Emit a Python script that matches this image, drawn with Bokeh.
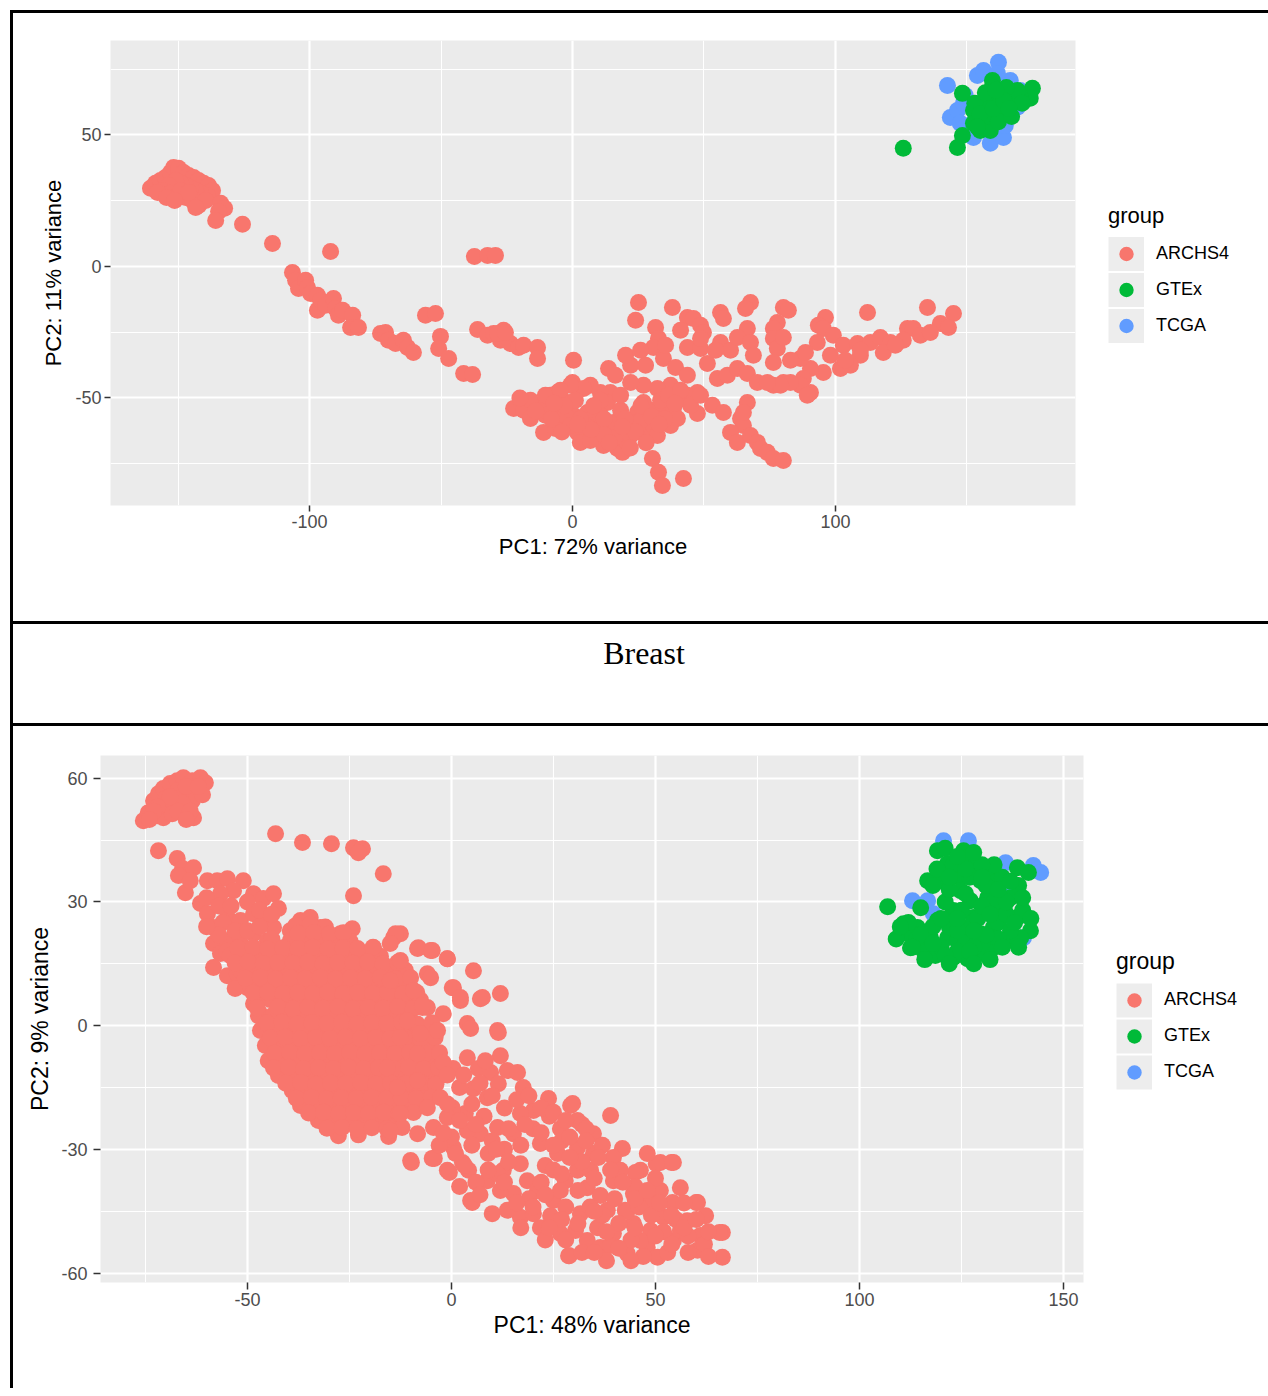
from bokeh.plotting import figure
from bokeh.models import Range1d, FixedTicker, Legend, LegendItem, Div
from bokeh.layouts import row, column
from bokeh.core.properties import value
from bokeh.embed import file_html
from bokeh.resources import INLINE

GROUP_NAMES = ["ARCHS4", "GTEx", "TCGA"]
GROUP_COLORS = {"ARCHS4": "#F8766D", "GTEx": "#00BA38", "TCGA": "#619CFF"}
DRAW_ORDER = ["ARCHS4", "TCGA", "GTEx"]

# ---------------- top panel (PC1 72% / PC2 11%) ----------------
top_archs4 = [
    (-160.5, 29.7), (-158.6, 31.6), (-156.7, 32.7), (-154.8, 33.8), (-152.9, 35.7), (-151.7, 37.6),
    (-149.8, 37.3), (-147.9, 35.7), (-146.0, 34.6), (-144.1, 33.8), (-142.2, 32.7), (-140.3, 31.6),
    (-138.4, 30.8), (-136.9, 28.9), (-138.8, 27.0), (-141.4, 27.8), (-143.3, 28.9), (-145.2, 29.7),
    (-147.1, 30.8), (-149.0, 31.6), (-150.9, 32.7), (-153.6, 30.8), (-155.9, 28.9), (-152.9, 27.8),
    (-149.8, 27.0), (-147.1, 26.2), (-144.5, 25.1), (-142.2, 23.2), (-139.5, 25.1), (-143.3, 22.4),
    (-149.0, 28.9), (-146.0, 28.1), (-157.8, 28.1), (-154.4, 26.2), (-151.3, 25.1),
    (-133.8, 24.0), (-132.3, 22.1), (-134.6, 20.9), (-135.7, 17.5), (-125.5, 16.0), (-114.1, 8.7),
    (-92.0, 5.7), (-37.3, 3.8), (-32.3, 4.2), (-29.3, 4.2),
    (-106.5, -2.3), (-105.3, -5.3), (-104.2, -8.4), (-101.5, -5.3), (-100.8, -8.0), (-99.6, -10.3),
    (-97.0, -11.0), (-97.0, -16.7), (-95.8, -12.9), (-93.9, -14.8), (-90.9, -12.2), (-90.1, -16.0),
    (-89.0, -18.6), (-87.4, -16.7), (-83.6, -18.6), (-84.4, -23.2), (-81.4, -23.2), (-73.0, -25.5),
    (-71.1, -25.1), (-70.0, -28.1), (-67.3, -29.3), (-64.3, -28.1), (-62.7, -30.8), (-60.5, -32.7),
    (-55.9, -18.6), (-52.1, -17.9), (-50.2, -26.6), (-50.9, -31.2), (-47.1, -35.0), (-41.4, -40.7),
    (-38.0, -41.1), (-36.1, -24.0), (-32.3, -26.2), (-30.0, -25.5), (-26.2, -24.3), (-27.4, -28.1),
    (-23.6, -29.3), (-20.5, -30.8), (-18.6, -30.0), (-13.3, -30.8), (-13.3, -35.0), (-28.5, -25.5),
    (-25.5, -25.1),
    (25.1, -13.7), (24.0, -20.5), (38.0, -15.6), (43.7, -19.4), (46.0, -19.8), (48.7, -22.4),
    (49.8, -25.1), (56.3, -17.5), (57.4, -19.8), (67.7, -13.7), (65.8, -16.0), (66.5, -23.6),
    (80.2, -15.6), (82.1, -16.7), (77.9, -21.3), (76.4, -23.6), (96.2, -19.4), (93.5, -22.4),
    (112.2, -17.5), (135.0, -15.6), (144.9, -17.9), (139.9, -21.7), (143.0, -23.2),
    (31.6, -23.2), (32.7, -27.4), (30.8, -30.8), (43.7, -30.8), (48.7, -31.2), (56.3, -28.9),
    (60.1, -31.9), (62.7, -27.0), (67.7, -28.9), (68.8, -33.8), (76.4, -27.4), (77.9, -31.2),
    (76.4, -36.5), (80.2, -27.0), (95.4, -23.6), (99.2, -26.2), (93.1, -28.9), (103.0, -30.0),
    (108.4, -29.3), (113.3, -28.9), (117.1, -27.0), (120.9, -28.9), (127.4, -23.6), (129.6, -23.6),
    (125.8, -28.1), (118.2, -32.7), (109.5, -33.8), (105.7, -37.6), (101.9, -38.8), (95.4, -40.3),
    (90.5, -38.8), (87.8, -42.6), (86.7, -35.0), (82.9, -35.7), (90.5, -47.9), (88.6, -32.7),
    (98.1, -33.8),
    (0.4, -35.7), (0.0, -44.1), (13.7, -38.8), (22.1, -37.6), (27.8, -37.6), (34.6, -35.0),
    (39.2, -38.4), (43.7, -41.4), (51.3, -36.9), (55.1, -42.6), (58.9, -41.4), (62.7, -38.8),
    (66.5, -40.7), (70.3, -44.1), (76.4, -45.2), (80.2, -44.1), (47.5, -47.9), (42.2, -50.2),
    (37.3, -45.2), (32.3, -46.4), (27.0, -45.2), (22.1, -44.1), (14.4, -47.9), (10.6, -47.9),
    (6.8, -45.2), (4.2, -46.4), (-0.8, -45.2), (-5.7, -47.9),
    (-22.4, -54.0), (-18.6, -54.7), (-16.0, -57.8), (-12.2, -52.8), (-11.0, -63.1), (-8.4, -49.0),
    (-5.7, -54.0), (-4.6, -59.3), (-1.9, -51.7), (0.4, -56.6), (1.9, -63.1), (3.0, -66.9),
    (5.7, -55.5), (8.0, -60.5), (9.5, -65.4), (11.8, -68.1), (13.3, -51.7), (15.6, -59.3),
    (17.1, -69.2), (19.0, -70.7), (20.9, -66.9), (23.2, -60.5), (24.7, -55.5), (27.0, -51.7),
    (28.5, -63.1), (30.8, -60.5), (32.3, -64.3), (34.6, -55.5), (37.3, -60.5), (38.4, -54.0),
    (39.9, -57.8), (47.5, -55.9), (43.7, -49.0), (30.4, -73.0), (32.7, -78.3), (34.2, -83.3),
    (42.2, -80.6),
    (53.2, -52.8), (57.4, -55.5), (63.9, -57.8), (65.0, -60.5), (60.1, -63.1), (62.7, -66.9),
    (67.7, -64.3), (70.3, -66.9), (71.5, -69.2), (74.1, -70.7), (76.4, -73.0), (80.2, -73.8),
    (66.5, -51.7), (65.0, -55.5),
    (86.7, -45.2), (89.3, -49.0), (82.9, -44.1), (79.1, -45.2), (74.1, -44.1),
    (-16.0, -50.9), (-10.3, -56.6), (-6.5, -61.6), (-2.7, -56.6), (1.1, -50.9), (4.9, -60.5),
    (10.6, -56.6), (14.4, -62.4), (18.3, -54.7), (22.1, -64.3), (25.9, -58.6), (29.7, -54.7),
    (33.5, -50.9), (36.5, -49.0), (41.1, -47.1), (44.9, -52.8), (48.7, -49.0), (18.3, -49.0),
    (10.6, -50.9), (6.8, -66.2), (-0.8, -60.5), (-10.3, -49.0), (-4.6, -47.1), (41.1, -24.3),
    (48.7, -27.4), (54.4, -31.9), (35.4, -30.0), (20.2, -33.8), (16.3, -41.4), (25.9, -31.9),
    (132.3, -26.2), (136.1, -25.1), (122.8, -30.0), (109.5, -31.9), (103.8, -35.7),
    (-20.0, -50.0), (-14.0, -55.0), (-8.0, -58.0), (-3.0, -53.0), (3.0, -58.0), (8.0, -53.0),
    (12.0, -58.0), (16.0, -65.0), (12.0, -64.0), (7.0, -62.0), (2.0, -60.0), (-4.0, -63.0),
    (20.0, -58.0), (24.0, -63.0), (26.0, -53.0), (30.0, -57.0), (35.0, -58.0), (39.0, -52.0),
    (28.0, -67.0), (22.0, -69.0), (14.0, -67.0), (19.0, -61.0), (33.0, -60.0), (-7.0, -52.0),
]
top_gtex = [
    (125.8, 44.9), (146.4, 45.2), (148.3, 49.8), (148.3, 65.8), (159.7, 70.7), (174.9, 67.7),
    (174.1, 63.9), (152.5, 59.3), (156.3, 62.0), (160.1, 64.3), (163.9, 65.8), (166.5, 63.1),
    (157.8, 54.4), (155.1, 51.7), (158.9, 51.7), (152.5, 54.4), (170.3, 64.3), (161.6, 58.2),
    (163.9, 59.3), (156.3, 56.6), (159.7, 68.1), (169.2, 66.9),
    (153.0, 62.0), (157.0, 66.0), (162.0, 61.0), (165.0, 68.0), (158.0, 57.0), (162.0, 55.0),
    (167.0, 57.0), (171.0, 62.0), (155.0, 58.0), (160.0, 60.0), (164.0, 63.0), (154.0, 53.0),
    (161.0, 67.0), (166.0, 60.0),
]
top_tcga = [
    (162.0, 77.6), (142.6, 68.8), (154.0, 72.6), (156.3, 74.5), (143.7, 56.6), (146.4, 59.3),
    (152.5, 49.0), (158.9, 46.8), (163.9, 49.0), (169.2, 60.5), (166.5, 70.7), (161.6, 73.4),
    (148.7, 62.0), (147.5, 54.4), (170.3, 66.9), (149.4, 65.0), (153.2, 55.5), (164.6, 53.6),
]
top_x_range = (-175.7, 191.3)
top_y_range = (-90.9, 85.9)
top_x_ticks = [-100, 0, 100]
top_x_minor = [-150, -50, 50, 150]
top_y_ticks = [-50, 0, 50]
top_y_minor = [-75, -25, 25, 75]
top_x_label = "PC1: 72% variance"
top_y_label = "PC2: 11% variance"

caption_text = "Breast"

# ---------------- bottom panel (PC1 48% / PC2 9%) ----------------
bot_archs4 = [
    (-75.5, 49.7), (-74.3, 51.6), (-73.0, 54.5), (-71.8, 56.2), (-70.6, 57.5), (-68.9, 58.7),
    (-67.2, 59.4), (-65.7, 60.1), (-63.5, 59.4), (-61.5, 60.1), (-60.3, 58.9), (-62.3, 57.0),
    (-64.7, 56.2), (-66.4, 55.0), (-68.1, 53.8), (-69.6, 52.1), (-72.1, 50.9), (-70.6, 50.4),
    (-68.4, 51.4), (-65.9, 52.8), (-63.5, 54.5), (-63.2, 50.4), (-71.8, 42.4),
    (-70.0, 55.0), (-67.0, 57.0), (-65.0, 58.0), (-66.0, 54.0), (-69.0, 55.5), (-72.0, 53.0),
    (-67.0, 52.0), (-64.0, 52.0), (-61.0, 56.0), (-62.0, 58.0), (-73.0, 52.0), (-74.0, 50.0),
    (-65.0, 50.0),
    (-43.1, 46.5), (-36.5, 44.4), (-29.4, 44.1), (-24.0, 43.1), (-21.8, 42.9), (-22.8, 41.9),
    (-16.7, 36.8), (-24.0, 31.5),
    (-67.2, 40.5), (-65.9, 38.1), (-66.9, 36.4), (-63.2, 38.3), (-65.2, 32.2), (-64.0, 35.1),
    (-61.5, 29.6), (-59.8, 35.1), (-57.4, 35.1), (-54.9, 35.6), (-51.0, 35.1), (-53.4, 32.7),
    (-56.6, 32.0), (-48.5, 32.0), (-46.1, 30.8), (-43.6, 32.0), (-42.4, 28.4), (-59.8, 27.1),
    (-58.3, 23.8), (-54.9, 26.2), (-51.7, 25.5), (-48.5, 27.1), (-46.1, 25.5), (-43.6, 23.8),
    (-58.3, 19.9), (-54.9, 20.6), (-51.7, 19.9), (-48.5, 22.3), (-45.1, 20.6), (-56.6, 17.5),
    (-53.4, 16.5), (-58.3, 14.1), (-54.9, 12.1), (-52.5, 12.6), (-48.5, 16.5), (-46.1, 17.5),
    (-43.6, 18.9), (-50.0, 9.2), (-47.6, 7.8), (-48.5, 5.3),
    (-60.0, 31.0), (-57.0, 29.0), (-54.0, 29.0), (-50.0, 30.0), (-47.0, 28.0), (-44.0, 27.0),
    (-56.0, 25.0), (-53.0, 23.0), (-50.0, 23.0), (-47.0, 24.0), (-44.0, 21.0), (-57.0, 22.0),
    (-55.0, 18.0), (-52.0, 15.0), (-49.0, 14.0), (-46.0, 12.0), (-50.0, 11.0), (-53.0, 9.0),
    (-47.0, 3.0), (-45.0, 14.0), (-60.0, 24.0),
    (-39.5, 23.0), (-37.0, 25.5), (-34.6, 26.2), (-32.1, 23.8), (-27.2, 22.3), (-24.3, 23.5),
    (-19.1, 18.9), (-14.2, 21.3), (-12.5, 22.3), (-8.3, 18.7), (-5.1, 18.2), (-1.0, 16.2),
    (-5.9, 12.6), (0.5, 9.2), (2.2, 6.1), (7.1, 6.5), (11.3, -1.2), (-7.1, 4.4), (-2.0, 2.9),
    (3.9, 0.5), (-10.0, 9.2), (5.4, 13.3), (12.0, 7.8),
    (-38.2, 24.2), (-34.6, 24.6), (-30.9, 23.9),
    (-39.5, 20.6), (-35.8, 20.9), (-32.1, 20.3), (-28.4, 20.8), (-24.8, 20.4),
    (-54.2, 17.0), (-50.5, 17.3), (-46.8, 16.8), (-43.1, 17.2), (-39.5, 16.9), (-35.8, 17.1),
    (-32.1, 16.7), (-28.4, 17.3), (-24.8, 16.9), (-21.1, 17.2), (-17.4, 16.8),
    (-51.7, 13.3), (-48.0, 13.6), (-44.4, 13.1), (-40.7, 13.4), (-37.0, 13.2), (-33.3, 13.5),
    (-29.7, 13.1), (-26.0, 13.4), (-22.3, 13.2), (-18.6, 13.6), (-15.0, 13.1), (-11.3, 13.4),
    (-49.3, 9.7), (-45.6, 9.9), (-41.9, 9.5), (-38.2, 9.8), (-34.6, 9.6), (-30.9, 9.9),
    (-27.2, 9.5), (-23.5, 9.8), (-19.9, 9.6), (-16.2, 9.9), (-12.5, 9.5),
    (-48.0, 6.1), (-44.4, 6.3), (-40.7, 5.9), (-37.0, 6.2), (-33.3, 6.0), (-29.7, 6.3),
    (-26.0, 5.9), (-22.3, 6.2), (-18.6, 6.0), (-15.0, 6.3), (-11.3, 5.9), (-7.6, 6.2),
    (-47.3, 2.4), (-43.6, 2.6), (-40.0, 2.2), (-36.3, 2.5), (-32.6, 2.3), (-28.9, 2.6),
    (-25.2, 2.2), (-21.6, 2.5), (-17.9, 2.3), (-14.2, 2.6), (-10.5, 2.2),
    (-46.8, -1.2), (-43.1, -1.0), (-39.5, -1.4), (-35.8, -1.1), (-32.1, -1.3), (-28.4, -1.0),
    (-24.8, -1.4), (-21.1, -1.1), (-17.4, -1.3), (-13.7, -1.0), (-10.0, -1.4), (-6.4, -1.1),
    (-45.6, -4.8), (-41.9, -4.6), (-38.2, -5.0), (-34.6, -4.7), (-30.9, -4.9), (-27.2, -4.6),
    (-23.5, -5.0), (-19.9, -4.7), (-16.2, -4.9), (-12.5, -4.6), (-8.8, -5.0), (-5.1, -4.7),
    (-44.9, -8.5), (-41.2, -8.3), (-37.5, -8.7), (-33.8, -8.4), (-30.1, -8.6), (-26.5, -8.3),
    (-22.8, -8.7), (-19.1, -8.4), (-15.4, -8.6), (-11.8, -8.3), (-8.1, -8.7), (-4.4, -8.4),
    (-42.4, -12.1), (-38.7, -11.9), (-35.0, -12.3), (-31.4, -12.0), (-27.7, -12.2), (-24.0, -11.9),
    (-20.3, -12.3), (-16.7, -12.0), (-13.0, -12.2), (-9.3, -11.9), (-5.6, -12.3), (-2.0, -12.0),
    (-39.0, -15.8), (-35.3, -15.6), (-31.6, -16.0), (-27.9, -15.7), (-24.3, -15.9), (-20.6, -15.6),
    (-16.9, -16.0), (-13.2, -15.7), (-9.6, -15.9), (-5.9, -15.6),
    (-37.0, -19.4), (-33.3, -19.2), (-29.7, -19.6), (-26.0, -19.3), (-22.3, -19.5), (-18.6, -19.2),
    (-15.0, -19.6), (-11.3, -19.3), (-7.6, -19.5),
    (-32.6, -23.0), (-28.9, -22.8), (-25.2, -23.2), (-21.6, -22.9), (-17.9, -23.1), (-14.2, -22.8),
    (-27.7, -26.7), (-22.8, -26.5), (-15.4, -26.9),
    (-37.6, 22.4), (-33.7, 22.6), (-29.9, 22.2), (-26.5, 22.5),
    (-52.3, 18.8), (-48.6, 19.0), (-45.0, 18.6), (-41.3, 18.9), (-37.6, 18.7), (-34.0, 19.0),
    (-30.2, 18.6), (-26.6, 18.9), (-23.0, 18.7), (-19.2, 19.0),
    (-53.0, 15.2), (-49.8, 15.4), (-46.1, 15.0), (-42.5, 15.3), (-38.8, 15.1), (-35.2, 15.4),
    (-31.5, 15.0), (-27.8, 15.3), (-24.1, 15.1), (-20.5, 15.4), (-16.8, 15.0), (-13.2, 15.3),
    (-50.5, 11.5), (-46.8, 11.7), (-43.1, 11.3), (-39.4, 11.6), (-35.8, 11.4), (-32.1, 11.7),
    (-28.4, 11.3), (-24.7, 11.6), (-21.1, 11.4), (-17.4, 11.7), (-13.7, 11.3), (-10.0, 11.6),
    (-48.6, 7.9), (-45.0, 8.1), (-41.3, 7.7), (-37.6, 8.0), (-34.0, 7.8), (-30.3, 8.1),
    (-26.6, 7.7), (-22.9, 8.0), (-19.3, 7.8), (-15.6, 8.1), (-11.9, 7.7), (-8.5, 8.0),
    (-47.6, 4.3), (-42.5, 4.5), (-38.8, 4.1), (-35.2, 4.4), (-31.5, 4.2), (-27.8, 4.5),
    (-24.1, 4.1), (-20.4, 4.4), (-16.8, 4.2), (-13.1, 4.5), (-9.4, 4.1), (-5.9, 4.4),
    (-45.2, 0.6), (-41.5, 0.8), (-37.8, 0.4), (-34.2, 0.7), (-30.5, 0.5), (-26.8, 0.8),
    (-23.1, 0.4), (-19.5, 0.7), (-15.8, 0.5), (-12.1, 0.8), (-8.4, 0.4), (-4.8, 0.7),
    (-44.4, -3.0), (-40.7, -2.8), (-37.0, -3.2), (-33.3, -2.9), (-29.7, -3.1), (-26.0, -2.8),
    (-22.3, -3.2), (-18.6, -2.9), (-15.0, -3.1), (-11.3, -2.8), (-7.6, -3.2), (-4.0, -2.9),
    (-43.3, -6.7), (-39.6, -6.5), (-35.9, -6.9), (-32.3, -6.6), (-28.6, -6.8), (-24.9, -6.5),
    (-21.2, -6.9), (-17.6, -6.6), (-13.9, -6.8), (-10.2, -6.5), (-6.5, -6.9), (-2.9, -6.6),
    (-43.6, -10.3), (-39.9, -10.1), (-36.2, -10.5), (-32.6, -10.2), (-28.9, -10.4), (-25.2, -10.1),
    (-21.5, -10.5), (-17.9, -10.2), (-14.2, -10.4), (-10.5, -10.1), (-6.8, -10.5), (-3.2, -10.2),
    (0.4, -10.4),
    (-40.6, -14.0), (-36.9, -13.8), (-33.2, -14.2), (-29.6, -13.9), (-25.9, -14.1), (-22.2, -13.8),
    (-18.5, -14.2), (-14.9, -13.9), (-11.2, -14.1), (-7.5, -13.8), (-3.8, -14.2),
    (-38.0, -17.6), (-34.3, -17.4), (-30.6, -17.8), (-27.0, -17.5), (-23.3, -17.7), (-19.6, -17.4),
    (-15.9, -17.8), (-12.3, -17.5), (-8.6, -17.7), (-4.9, -17.4),
    (-35.0, -21.2), (-31.3, -21.0), (-27.6, -21.4), (-24.0, -21.1), (-20.3, -21.3), (-16.6, -21.0),
    (-12.9, -21.4), (-9.3, -21.1),
    (-30.5, -24.9), (-26.8, -24.7), (-23.1, -25.1), (-19.5, -24.8), (-15.8, -25.0), (-12.1, -24.7),
    (-13.7, 22.3), (-8.1, 18.9), (-4.7, 18.2), (-1.0, 16.2), (7.6, 6.8), (0.2, 9.2), (2.2, 6.8),
    (11.5, -1.7), (4.7, -0.7), (-7.1, 4.8), (-5.1, 11.6), (12.0, -7.3), (3.9, -7.8), (6.6, -10.4),
    (9.6, -11.4), (13.7, -10.9), (16.2, -11.4), (5.4, -15.3), (8.8, -17.5), (11.5, -14.1),
    (17.6, -15.0), (23.8, -17.7), (29.2, -19.4), (39.0, -21.8), (30.9, -23.0), (26.7, -25.0),
    (20.1, -20.6), (16.9, -21.3), (15.2, -26.2), (11.3, -24.7), (7.1, -26.2), (3.4, -21.3),
    (0.2, -19.9), (-2.7, -17.5), (-4.4, -24.7), (-10.0, -32.7), (-4.7, -32.2), (-1.0, -35.1),
    (2.7, -33.2), (4.2, -35.1), (4.7, -42.4), (10.0, -45.6), (8.8, -37.6), (12.7, -35.1),
    (16.9, -33.5), (18.6, -37.6), (16.9, -46.5), (21.8, -49.0), (26.7, -50.4), (28.7, -55.8),
    (33.3, -52.1), (36.5, -53.8), (39.7, -50.4), (43.1, -55.3), (48.0, -53.8), (50.5, -56.2),
    (54.4, -52.1), (57.8, -47.3), (60.3, -54.5), (66.4, -50.2), (66.4, -56.2), (60.3, -42.9),
    (54.2, -42.9), (48.3, -42.4), (54.4, -33.2), (51.2, -33.2), (56.1, -39.3), (46.3, -35.1),
    (41.9, -29.8), (34.8, -26.2), (30.9, -35.1), (33.3, -39.3), (39.7, -37.6), (44.6, -40.7),
    (38.2, -44.8), (31.6, -45.6), (25.0, -42.4), (21.1, -40.0), (15.2, -40.7), (11.3, -35.9),
    (27.9, -37.6), (35.8, -49.0), (44.6, -48.0), (52.0, -46.5), (20.1, -45.6), (13.7, -44.8),
    (29.7, -18.9), (30.9, -29.6), (26.0, -31.0), (21.8, -28.6), (34.8, -31.0), (39.7, -32.0),
    (45.1, -35.6),
    (-15.0, 19.9), (-12.5, 15.8), (-15.0, 10.9), (-9.3, 8.5), (-10.8, 1.2), (-12.5, -2.9),
    (-7.6, -1.9), (-3.4, -1.2), (-8.3, -6.8), (-2.0, -9.0), (-15.7, -10.2), (-13.2, -15.0),
    (-8.3, -13.3), (-12.5, -21.3), (-15.0, -25.5), (-8.3, -26.2), (-1.0, -22.3), (-5.9, -19.9),
    (3.9, -25.5), (0.5, -29.6),
    (-9.8, -33.2), (-4.2, -32.2), (-0.5, -35.6), (3.2, -33.9), (5.1, -42.9), (28.9, -55.8),
    (65.7, -50.2), (60.0, -42.9), (53.9, -33.2), (50.2, -33.5), (8.3, -8.5),
    (23.0, -33.9), (36.5, -41.2), (42.6, -44.8), (48.8, -49.7), (26.7, -40.0), (34.1, -35.1),
    (41.4, -35.1), (51.2, -40.0), (24.3, -46.1), (30.4, -49.7), (39.0, -53.3), (46.3, -52.1),
    (56.1, -49.7), (61.0, -50.9), (62.3, -46.1),
    (-1.0, -12.0), (2.0, -15.0), (5.0, -19.0), (8.0, -22.0), (10.0, -28.0), (13.0, -30.0),
    (17.0, -29.0), (20.0, -25.0), (24.0, -22.0), (27.0, -28.0), (25.0, -35.0), (22.0, -38.0),
    (19.0, -42.0), (28.0, -44.0), (31.0, -40.0), (34.0, -44.0), (37.0, -46.0), (40.0, -42.0),
    (43.0, -45.0), (46.0, -44.0), (49.0, -46.0), (52.0, -50.0), (55.0, -47.0), (58.0, -51.0),
    (62.0, -53.0), (45.0, -39.0), (50.0, -37.0), (48.0, -31.0), (37.0, -29.0), (32.0, -33.0),
    (14.0, -33.0), (9.0, -31.0), (6.0, -38.0), (2.0, -39.0), (0.0, -27.0), (-3.0, -29.0),
    (23.0, -52.0), (32.0, -55.0), (38.0, -57.0), (47.0, -56.0), (53.0, -55.0), (57.0, -43.0),
    (41.0, -48.0), (35.0, -37.0), (17.0, -49.0), (12.0, -40.0), (27.0, -47.0), (44.0, -52.0),
    (3.0, -12.0), (7.0, -14.0), (10.0, -17.0), (13.0, -20.0), (16.0, -18.0), (19.0, -17.0),
    (22.0, -20.0), (25.0, -21.0), (28.0, -23.0), (32.0, -24.0), (33.0, -25.0), (14.0, -25.0),
    (18.0, -24.0), (22.0, -26.0), (25.0, -29.0), (29.0, -27.0), (33.0, -28.0), (36.0, -32.0),
    (39.0, -35.0), (42.0, -38.0), (45.0, -42.0), (48.0, -40.0), (51.0, -43.0), (54.0, -46.0),
    (57.0, -49.0), (60.0, -47.0), (63.0, -50.0), (29.0, -32.0), (27.0, -36.0), (23.0, -41.0),
    (20.0, -44.0), (24.0, -49.0), (28.0, -52.0), (31.0, -48.0), (35.0, -45.0), (38.0, -50.0),
    (41.0, -54.0), (45.0, -49.0), (50.0, -51.0), (54.0, -53.0), (58.0, -55.0), (63.0, -56.0),
    (35.0, -55.0), (44.0, -57.0), (9.0, -35.0), (7.0, -41.0), (13.0, -38.0), (16.0, -43.0),
    (11.0, -30.0), (5.0, -29.0), (1.0, -31.0), (-2.0, -26.0), (2.0, -23.0), (-1.0, -19.0),
    (6.0, -24.0),
]
bot_gtex = [
    (106.9, 28.8), (119.1, 42.4), (125.5, 42.4), (121.6, 39.3), (128.9, 38.8), (132.8, 37.6),
    (138.7, 38.3), (141.4, 37.1), (116.7, 35.1), (119.9, 35.1), (124.8, 35.9), (129.7, 35.1),
    (133.8, 35.1), (115.0, 28.6), (110.8, 24.7), (114.2, 23.8), (119.1, 25.5), (123.0, 27.9),
    (127.2, 30.3), (131.4, 31.0), (134.6, 28.6), (138.7, 26.2), (141.9, 23.0), (112.5, 18.9),
    (115.7, 18.2), (118.6, 17.0), (123.0, 16.5), (126.5, 16.2), (129.7, 17.5), (132.8, 18.9),
    (136.3, 20.6), (139.5, 21.3), (124.8, 32.7), (126.5, 23.8), (121.6, 21.3), (129.7, 22.3),
    (132.8, 23.8), (117.4, 21.3), (111.8, 22.3), (127.9, 26.2), (124.0, 20.6), (131.4, 38.3),
    (121.0, 30.0), (125.0, 28.0), (129.0, 26.0), (133.0, 30.0), (137.0, 31.0), (140.0, 28.0),
    (119.0, 38.0), (123.0, 39.0), (127.0, 36.0), (131.0, 34.0), (135.0, 36.0), (122.0, 33.0),
    (126.0, 32.0), (130.0, 29.0), (134.0, 25.0), (137.0, 23.0), (114.0, 21.0), (118.0, 24.0),
    (122.0, 24.0), (126.0, 21.0), (130.0, 20.0), (134.0, 21.0), (120.0, 19.0), (124.0, 18.0),
    (128.0, 19.0), (132.0, 16.0), (116.0, 16.0), (109.0, 21.0), (127.0, 41.0), (121.0, 43.0),
    (133.0, 39.0), (139.0, 34.0), (136.0, 27.0), (130.0, 39.0),
    (112.0, 25.0), (115.0, 22.0), (118.0, 20.0), (121.0, 17.0), (124.0, 23.0), (127.0, 18.0),
    (131.0, 22.0), (135.0, 19.0), (138.0, 25.0), (120.0, 26.0), (124.0, 26.0), (128.0, 23.0),
    (132.0, 27.0), (136.0, 30.0), (126.0, 38.0), (130.0, 36.0), (134.0, 33.0), (122.0, 36.0),
    (118.0, 34.0), (128.0, 42.0), (124.0, 41.0), (137.0, 35.0), (140.0, 31.0), (142.0, 26.0),
    (139.0, 19.0), (128.0, 15.0), (122.0, 15.0), (113.0, 19.0), (110.0, 24.0),
]
bot_tcga = [
    (120.6, 44.8), (126.7, 44.8), (135.8, 39.5), (142.6, 38.8), (144.4, 37.1), (137.0, 33.5),
    (113.0, 30.3), (116.7, 30.3), (118.1, 27.1), (136.5, 25.0), (140.2, 21.3), (131.4, 27.9),
]
bot_x_range = (-86.0, 154.9)
bot_y_range = (-62.3, 65.5)
bot_x_ticks = [-50, 0, 50, 100, 150]
bot_x_minor = [-75, -25, 25, 75, 125]
bot_y_ticks = [-60, -30, 0, 30, 60]
bot_y_minor = [-45, -15, 15, 45]
bot_x_label = "PC1: 48% variance"
bot_y_label = "PC2: 9% variance"

FONT = "Liberation Sans"
PANEL_BG = "#EBEBEB"
KEY_BG = "#EDEDED"
W = 1255


def make_panel(w, h, left, top, fw, fh, xr, yr, xt, xm, yt, ym, xlabel, ylabel,
               series, leg_margin, tick_px, title_px, leg_label_px,
               tick_out, ylab_standoff, ytick_standoff):
    p = figure(frame_width=fw, frame_height=fh, x_range=Range1d(*xr), y_range=Range1d(*yr),
               output_backend="svg", toolbar_location=None,
               min_border_left=left, min_border_top=top,
               min_border_right=w - left - fw, min_border_bottom=h - top - fh,
               background_fill_color=PANEL_BG, border_fill_color="white",
               outline_line_color=None)
    p.xaxis.ticker = FixedTicker(ticks=xt, minor_ticks=xm)
    p.yaxis.ticker = FixedTicker(ticks=yt, minor_ticks=ym)
    p.xaxis.major_label_overrides = {t: str(t) for t in xt}
    p.yaxis.major_label_overrides = {t: str(t) for t in yt}
    p.xaxis.axis_label = xlabel
    p.yaxis.axis_label = ylabel
    for ax in (p.xaxis[0], p.yaxis[0]):
        ax.axis_line_color = None
        ax.major_tick_line_color = "#333333"
        ax.major_tick_line_width = 1.5
        ax.major_tick_in = 0
        ax.major_tick_out = tick_out
        ax.minor_tick_line_color = None
        ax.major_label_text_font = FONT
        ax.major_label_text_font_size = tick_px
        ax.major_label_text_color = "#4D4D4D"
        ax.axis_label_text_font = FONT
        ax.axis_label_text_font_size = title_px
        ax.axis_label_text_font_style = "normal"
        ax.axis_label_text_color = "black"
    p.xaxis.major_label_standoff = 3
    p.xaxis.axis_label_standoff = 3
    p.yaxis.major_label_standoff = ytick_standoff
    p.yaxis.axis_label_standoff = ylab_standoff
    for g in (p.xgrid[0], p.ygrid[0]):
        g.grid_line_color = "white"
        g.grid_line_width = 2.2
        g.minor_grid_line_color = "white"
        g.minor_grid_line_width = 1.1

    # legend-key background helper: a wide line kept far outside the visible ranges
    far_x = xr[1] * 10
    far_y = yr[1] * 10
    key_bg = p.line(x=[far_x, far_x * 1.1], y=[far_y, far_y], line_width=34,
                    line_color=KEY_BG, line_cap="butt")
    rends = {}
    for name in DRAW_ORDER:
        pts = series[name]
        rends[name] = p.scatter(x=[a for a, b in pts], y=[b for a, b in pts], size=17,
                                marker="circle", fill_color=GROUP_COLORS[name], line_color=None)
    items = [LegendItem(label=value(n), renderers=[key_bg, rends[n]]) for n in GROUP_NAMES]
    leg = Legend(items=items, location="center_left", title="group", orientation="vertical",
                 glyph_width=36, glyph_height=36, label_height=36, label_standoff=12,
                 spacing=0, padding=0, margin=leg_margin, border_line_color=None,
                 background_fill_alpha=0, label_text_font=FONT,
                 label_text_font_size=leg_label_px, label_text_color="black",
                 title_text_font=FONT, title_text_font_size=title_px,
                 title_text_font_style="normal", title_text_color="black", title_standoff=7)
    p.add_layout(leg, "right")
    return p


fig_top = make_panel(W, 608, 97, 27, 965, 465, top_x_range, top_y_range,
                     top_x_ticks, top_x_minor, top_y_ticks, top_y_minor,
                     top_x_label, top_y_label,
                     {"ARCHS4": top_archs4, "GTEx": top_gtex, "TCGA": top_tcga},
                     33, "18px", "22px", "18px", 6, 6, 3)

fig_bot = make_panel(W, 662, 87, 29, 983, 527, bot_x_range, bot_y_range,
                     bot_x_ticks, bot_x_minor, bot_y_ticks, bot_y_minor,
                     bot_x_label, bot_y_label,
                     {"ARCHS4": bot_archs4, "GTEx": bot_gtex, "TCGA": bot_tcga},
                     33, "18px", "23px", "18px", 7, 5, 6)


def bar(w, h):
    return Div(text="", width=w, height=h, margin=0, styles={"background-color": "black"})


def gap(w, h):
    return Div(text="", width=w, height=h, margin=0)


caption = Div(
    text=("<div style=\"width:" + str(W) + "px;box-sizing:border-box;padding-left:7px;padding-top:11px;"
          "text-align:center;font-family:'Liberation Serif','Times New Roman',serif;"
          "font-size:32px;line-height:normal;color:black;margin:0;\">" + caption_text + "</div>"),
    width=W, height=99, margin=0)

root_top = column(gap(W + 13, 10),
                  row(gap(10, 611), bar(3, 611), column(bar(W, 3), fig_top, spacing=0), spacing=0),
                  spacing=0)
root_mid = row(gap(10, 105), bar(3, 105),
               column(bar(W, 3), caption, bar(W, 3), spacing=0), spacing=0)
root_bot = row(gap(10, 662), bar(3, 662), fig_bot, spacing=0)

with open("out.html", "w") as f:
    f.write(file_html([root_top, root_mid, root_bot], INLINE))
